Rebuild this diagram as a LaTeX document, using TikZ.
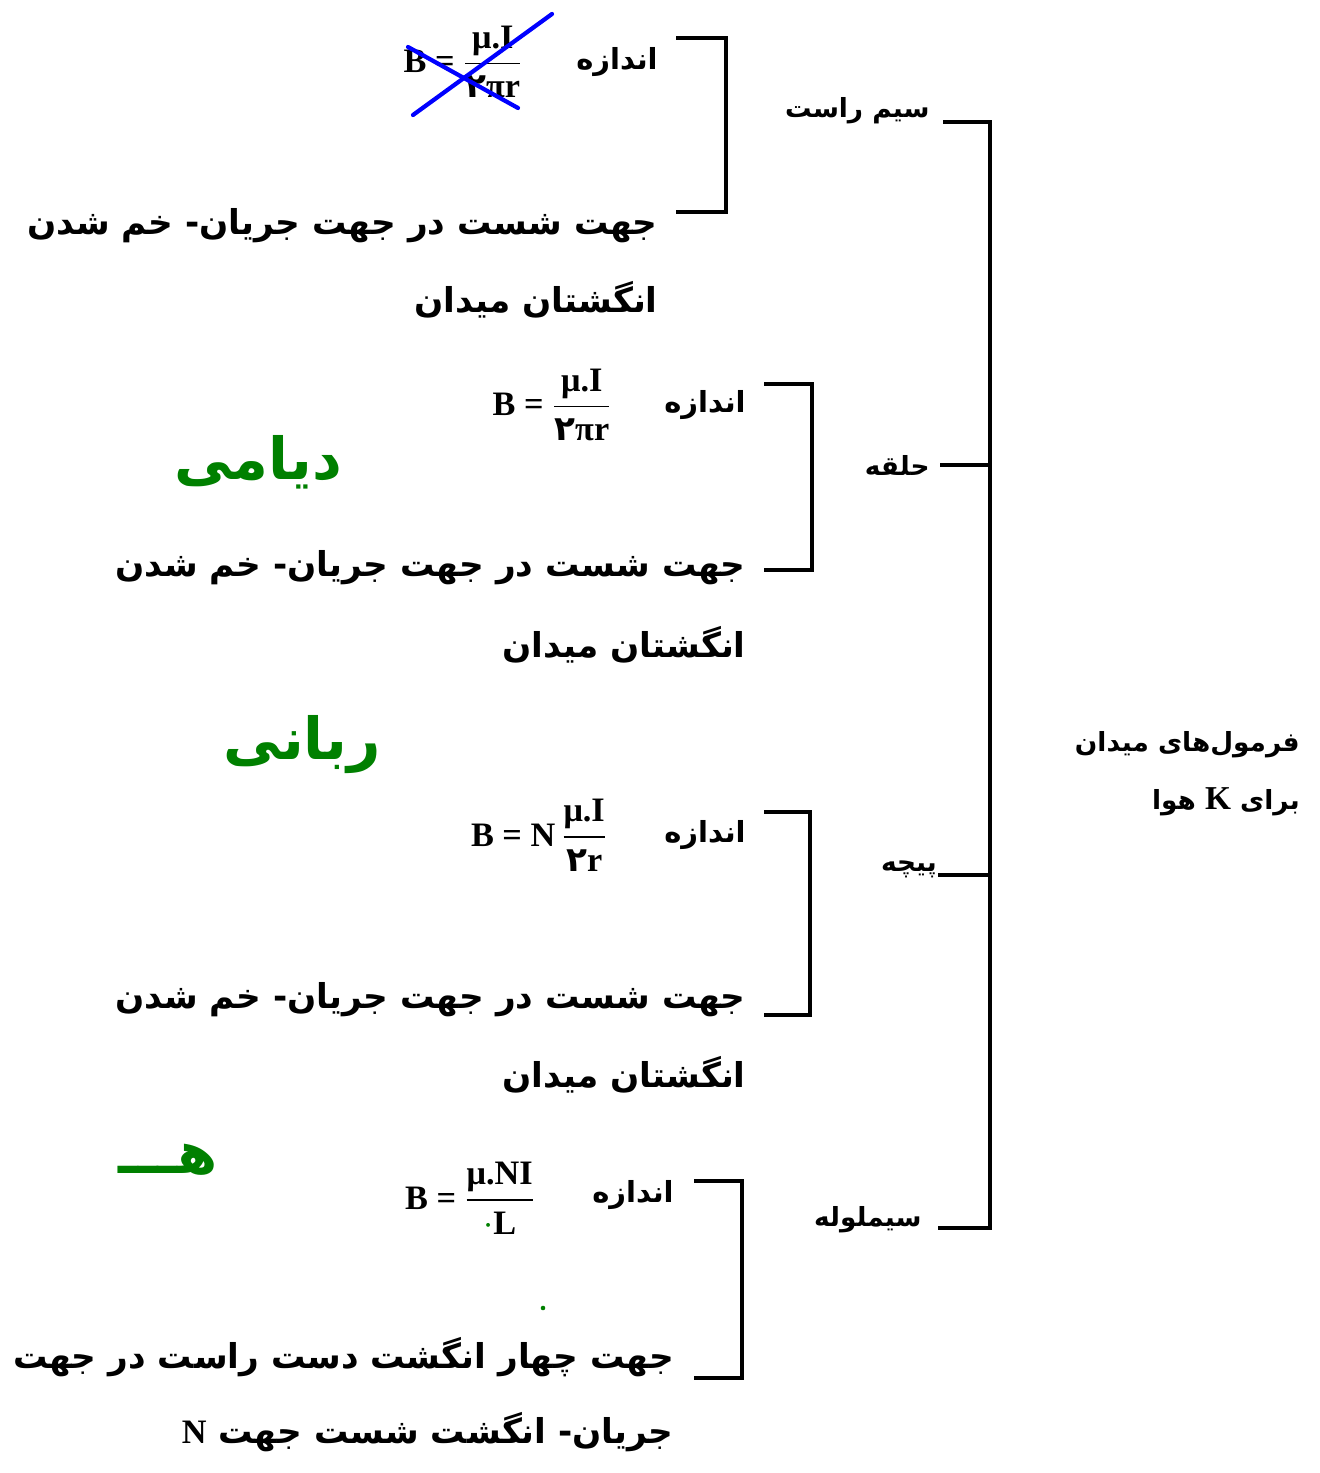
\documentclass[tikz,border=0pt]{standalone}
\usepackage{amsmath}
\usepackage{fontspec}
\usetikzlibrary{positioning}
\TeXXeTstate=1
\newfontfamily\fatext[Script=Arabic]{DejaVu Sans}
\newfontfamily\fmla{Liberation Serif}
\newcommand{\fm}[1]{\text{\fmla\bfseries #1}}
\newcommand{\fa}[1]{\beginR #1\endR}
\tikzset{
  faline/.style={anchor=east, inner sep=0pt, font=\fatext\bfseries\fontsize{19.5}{23}\selectfont},
  falabel/.style={faline, font=\fatext\bfseries\fontsize{15}{18}\selectfont},
  fasize/.style={faline, font=\fatext\bfseries\fontsize{16.5}{20}\selectfont},
  formula/.style={inner sep=0pt, font=\fontsize{19.5}{23}\selectfont},
  bracketline/.style={line width=2.8pt},
  crossmark/.style={draw=blue, line width=2.4pt, line cap=round},
  handnote/.style={inner sep=0pt, text=green!50!black, font=\fatext\bfseries\fontsize{33}{38}\selectfont},
  handdot/.style={fill=green!50!black}
}
\begin{document}
\begin{tikzpicture}[x=0.02cm, y=-0.02cm]
  \useasboundingbox (0,0) rectangle (1319,1473);
  % title
  \node[falabel] (title1) at (1300,745) {\fa{فرمول‌های میدان}};
  \node[falabel] (title2) at (1300,802) {\fa{برای  {\fmla\fontsize{19}{22}\selectfont K} هوا}};
  % main bracket
  \node[falabel] (wire) at (930,111) {\fa{سیم راست}};
  \node[falabel] (loop) at (930,465) {\fa{حلقه}};
  \node[falabel] (coil) at (937,869) {\fa{پیچه}};
  \node[falabel] (solenoid) at (922,1220) {\fa{سیملوله}};
  \coordinate (m1) at (943,122);
  \coordinate (m2) at (940,465);
  \coordinate (m3) at (938,875);
  \coordinate (m4) at (938,1228);
  \coordinate (spine) at (990,1228);
  \draw[bracketline] (m1) -| (spine) -- (m4);
  \draw[bracketline] (m2) -- (m2 -| spine);
  \draw[bracketline] (m3) -- (m3 -| spine);

  % straight wire
  \node[fasize] (size1) at (658,62) {\fa{اندازه}};
  \node[formula] (form1) at (463,62) {$\fm{B}\fm{ = }\dfrac{\fm{μ.I}}{\text{\fatext\bfseries ۲}\fm{πr}}$};
  \node[faline] (dir1a) at (658,226) {\fa{جهت شست در جهت جریان- خم شدن}};
  \node[faline] (dir1b) at (658,300) {\fa{انگشتان میدان}};
  \coordinate (a1t) at (676,38);
  \coordinate (a1b) at (676,212);
  \draw[bracketline] (a1t) -- ++(50,0) |- (a1b);
  \coordinate (x1a) at (413,115);
  \coordinate (x1b) at (552,14);
  \coordinate (x2a) at (408,47);
  \coordinate (x2b) at (518,108);
  \draw[crossmark] (x1a) -- (x1b);
  \draw[crossmark] (x2a) -- (x2b);

  % loop
  \node[fasize] (size2) at (746,405) {\fa{اندازه}};
  \node[formula] (form2) at (552,405) {$\fm{B}\fm{ = }\dfrac{\fm{μ.I}}{\text{\fatext\bfseries ۲}\fm{πr}}$};
  \node[faline] (dir2a) at (746,568) {\fa{جهت شست در جهت جریان- خم شدن}};
  \node[faline] (dir2b) at (746,645) {\fa{انگشتان میدان}};
  \coordinate (a2t) at (764,384);
  \coordinate (a2b) at (764,570);
  \draw[bracketline] (a2t) -- ++(48,0) |- (a2b);

  % coil
  \node[fasize] (size3) at (746,835) {\fa{اندازه}};
  \node[formula] (form3) at (539,835) {$\fm{B}\fm{ = }\fm{N}\,\dfrac{\fm{μ.I}}{\text{\fatext\bfseries ۲}\fm{r}}$};
  \node[faline] (dir3a) at (746,1000) {\fa{جهت شست در جهت جریان- خم شدن}};
  \node[faline] (dir3b) at (746,1075) {\fa{انگشتان میدان}};
  \coordinate (a3t) at (764,812);
  \coordinate (a3b) at (764,1015);
  \draw[bracketline] (a3t) -- ++(46,0) |- (a3b);

  % solenoid
  \node[fasize] (size4) at (674,1195) {\fa{اندازه}};
  \node[formula] (form4) at (470,1198) {$\fm{B}\fm{ = }\dfrac{\fm{μ.NI}}{\text{\color{green!50!black}$\cdot$}\fm{L}}$};
  \node[faline] (dir4a) at (674,1357) {\fa{جهت چهار انگشت دست راست در جهت}};
  \node[faline] (dir4b) at (674,1432) {\fa{جریان- انگشت شست جهت {\fmla N}}};
  \coordinate (a4t) at (694,1181);
  \coordinate (a4b) at (694,1378);
  \draw[bracketline] (a4t) -- ++(48,0) |- (a4b);

  % handwritten notes
  \node[handnote] (hand1) at (258,462) {\fa{دیامی}};
  \node[handnote] (hand2) at (302,745) {\fa{ربانی}};
  \node[handnote] (hand3) at (168,1160) {\fa{هـــ}};
  \fill[handdot] (543,1308) circle (1.3pt);
\end{tikzpicture}
\end{document}
